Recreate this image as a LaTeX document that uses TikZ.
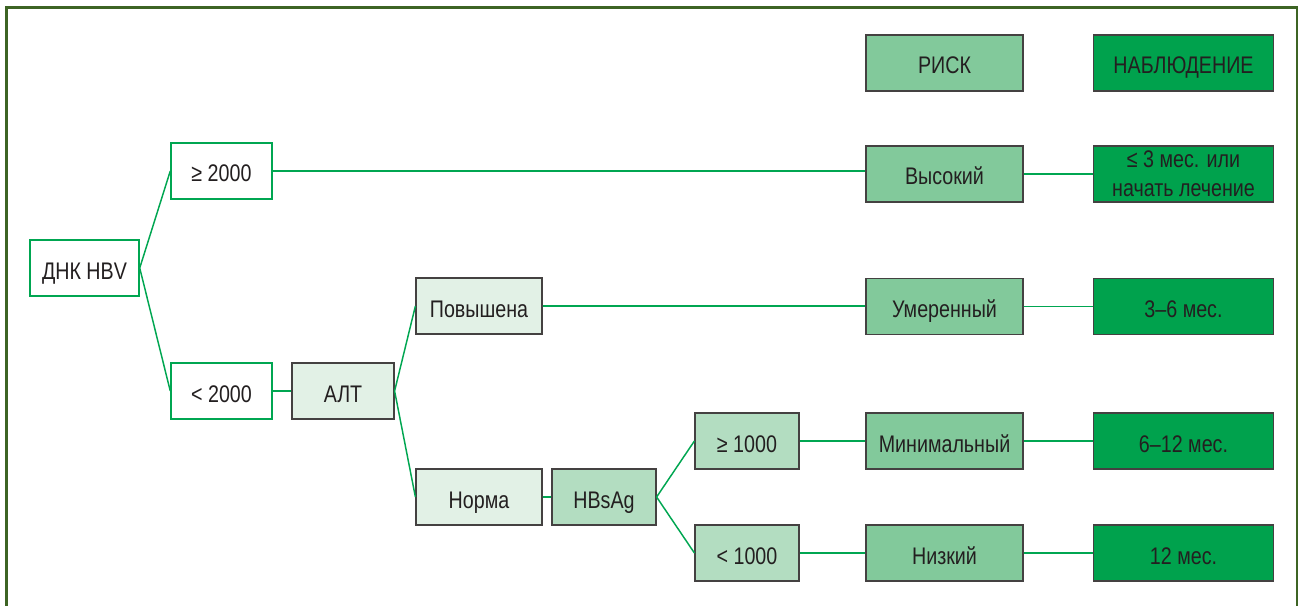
\documentclass[tikz,border=0pt]{standalone}
\usepackage{fontspec}
\setmainfont{Liberation Sans}[FakeStretch=0.82]
\definecolor{txtgray}{HTML}{231F20}
\definecolor{linegreen}{HTML}{00A651}
\definecolor{framegreen}{HTML}{3D6424}
\definecolor{palefill}{HTML}{E2F1E6}
\definecolor{midfill}{HTML}{B3DDC1}
\definecolor{riskfill}{HTML}{82C99B}
\definecolor{obsfill}{HTML}{00A24D}
\begin{document}
\begin{tikzpicture}[x=0.75pt,y=0.75pt,yscale=-1,xscale=1,
		every node/.style={font=\fontsize{18}{21.5}\selectfont, text=txtgray, inner sep=0pt, minimum height=42pt, text height=16.5pt, text depth=0pt},
		whitebox/.style={draw=linegreen, line width=1.1pt, fill=white},
		palebox/.style={draw=txtgray!85, line width=0.9pt, fill=palefill},
		midbox/.style={draw=txtgray!85, line width=0.9pt, fill=midfill},
		riskbox/.style={draw=txtgray!85, line width=0.9pt, fill=riskfill, minimum width=117.75pt},
		obsbox/.style={draw=txtgray!85, line width=0.9pt, fill=obsfill, minimum width=135pt, align=center},
		link/.style={draw=linegreen, line width=1.1pt}]
			%set diagram left start at 0, and has height of 606
			\path[use as bounding box] (0,0) rectangle (1299,606);
			
			%Frame
			\draw [framegreen, line width=2.2pt] (6.5,612) -- (6.5,7.5) -- (1297,7.5) -- (1297,612);
			
			%Shape: Rectangle (headers)
			\node [riskbox] (riskhead) at (944.5,63) {РИСК};
			\node [obsbox] (obshead) at (1183.5,63) {НАБЛЮДЕНИЕ};
			
			%Shape: Rectangle (tree)
			\node [whitebox, minimum width=81.75pt] (dnk) at (84.5,268) {ДНК HBV};
			\node [whitebox, minimum width=75.75pt] (hi) at (221.5,171) {≥ 2000};
			\node [whitebox, minimum width=75.75pt] (lo) at (221.5,391) {< 2000};
			\node [palebox, minimum width=76.5pt] (alt) at (343,391) {АЛТ};
			\node [palebox, minimum width=94.5pt] (raised) at (479,306) {Повышена};
			\node [palebox, minimum width=94.5pt] (norm) at (479,497) {Норма};
			\node [midbox, minimum width=78pt] (hbsag) at (604,497) {HBsAg};
			\node [midbox, minimum width=78pt] (hbhi) at (747,441) {≥ 1000};
			\node [midbox, minimum width=78pt] (hblo) at (747,553) {< 1000};
			
			%Shape: Rectangle (risk)
			\node [riskbox] (high) at (944.5,174) {Высокий};
			\node [riskbox] (moderate) at (944.5,306.5) {Умеренный};
			\node [riskbox] (minimal) at (944.5,441) {Минимальный};
			\node [riskbox] (low) at (944.5,553) {Низкий};
			
			%Shape: Rectangle (follow-up)
			\node [obsbox, text height={}, text depth={}] (obshigh) at (1183.5,174) {≤ 3 мес. или\\начать лечение};
			\node [obsbox] (obsmod) at (1183.5,306.5) {3–6 мес.};
			\node [obsbox] (obsmin) at (1183.5,441) {6–12 мес.};
			\node [obsbox] (obslow) at (1183.5,553) {12 мес.};
			
			%Straight Lines
			\coordinate (hiend) at (hi.east);
			\draw [link] (dnk.east) -- (hi.west);
			\draw [link] (dnk.east) -- (lo.west);
			\draw [link] (lo) -- (alt);
			\draw [link] (alt.east) -- (raised.west);
			\draw [link] (alt.east) -- (norm.west);
			\draw [link] (norm) -- (hbsag);
			\draw [link] (hbsag.east) -- (hbhi.west);
			\draw [link] (hbsag.east) -- (hblo.west);
			\draw [link] (hiend) -- (hiend -| high.west);
			\draw [link] (raised.east) -- (raised.east -| moderate.west);
			\draw [link] (hbhi) -- (minimal);
			\draw [link] (hblo) -- (low);
			\draw [link] (high.east) -- (high.east -| obshigh.west);
			\draw [link] (moderate) -- (obsmod);
			\draw [link] (minimal) -- (obsmin);
			\draw [link] (low) -- (obslow);
			
		\end{tikzpicture}
\end{document}
